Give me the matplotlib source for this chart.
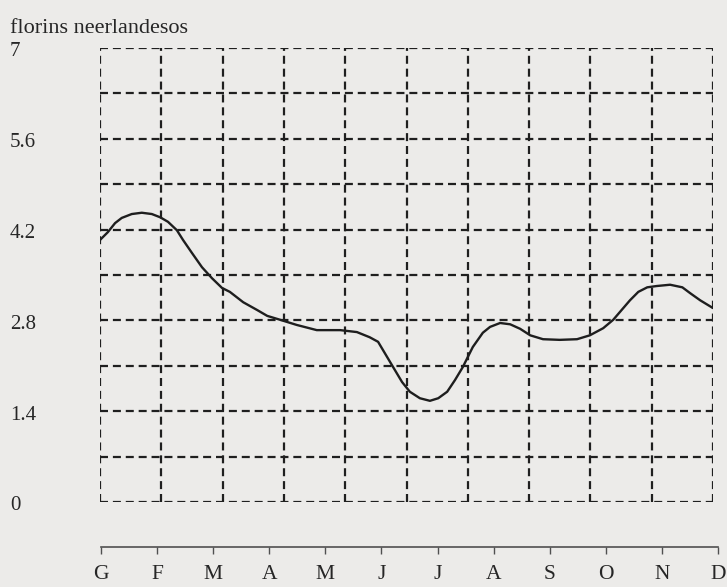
import numpy as np
import matplotlib
matplotlib.use('Agg')
import matplotlib.pyplot as plt
from matplotlib.transforms import offset_copy

# price curve, x in months (0 = G ... 11 = D), y in florins
month_pos = [0.0, 0.14, 0.27, 0.39, 0.57, 0.75, 0.93, 1.08, 1.22, 1.38,
             1.49, 1.65, 1.83, 2.01, 2.19, 2.33, 2.57, 2.82, 3.00, 3.23,
             3.53, 3.89, 4.31, 4.61, 4.84, 4.99, 5.08, 5.26, 5.42, 5.56,
             5.74, 5.92, 6.07, 6.23, 6.37, 6.51, 6.69, 6.87, 7.00, 7.18,
             7.36, 7.54, 7.72, 7.95, 8.25, 8.56, 8.79, 9.03, 9.21, 9.33,
             9.51, 9.66, 9.82, 9.99, 10.23, 10.45, 10.59, 10.77, 11.0]
price = [4.04, 4.16, 4.30, 4.38, 4.44, 4.46, 4.44, 4.39, 4.32, 4.19,
         4.04, 3.84, 3.62, 3.45, 3.30, 3.24, 3.08, 2.96, 2.87, 2.81,
         2.73, 2.65, 2.65, 2.62, 2.54, 2.47, 2.34, 2.08, 1.85, 1.70,
         1.60, 1.56, 1.60, 1.70, 1.88, 2.08, 2.39, 2.61, 2.70, 2.76,
         2.74, 2.67, 2.57, 2.51, 2.50, 2.51, 2.57, 2.68, 2.81, 2.93,
         3.11, 3.24, 3.31, 3.33, 3.35, 3.31, 3.22, 3.11, 2.99]

months = ['G', 'F', 'M', 'A', 'M', 'J', 'J', 'A', 'S', 'O', 'N', 'D']
ytick_vals = [0, 1.4, 2.8, 4.2, 5.6, 7]
ytick_labels = ['0', '1.4', '2.8', '4.2', '5.6', '7']

bg = '#ecebe9'
ink = '#262626'
plt.rcParams['font.family'] = ['Liberation Serif', 'DejaVu Serif']

fig = plt.figure(figsize=(7.27, 5.87), dpi=100, facecolor=bg)

# main grid panel
ax = fig.add_axes([100 / 727, 1 - 502 / 587, 613 / 727, 454 / 587])
ax.set_facecolor(bg)
ax.set_xlim(0, 11)
ax.set_ylim(0, 7)
for s in ax.spines.values():
    s.set_visible(False)
ax.set_xticks([])
ax.set_yticks([])

dash = (0, (3.6, 2.2))
ax.vlines(np.linspace(0, 11, 11), 0, 7, colors='#1f1f1f', linestyles=dash, lw=1.6)
ax.hlines(np.arange(0, 7.01, 0.7), 0, 11, colors='#1f1f1f', linestyles=dash, lw=1.6)

ax.plot(month_pos, price, color='#1e1e1e', lw=1.7, solid_capstyle='round',
        solid_joinstyle='round')

# y labels, left aligned at the figure edge, slightly below the gridlines
trans = offset_copy(ax.get_yaxis_transform(), fig=fig, x=0, y=-4, units='dots')
for v, lab in zip(ytick_vals, ytick_labels):
    ax.text(-90 / 613, v, lab, transform=trans, ha='left', va='center',
            fontsize=15, color=ink, clip_on=False)

fig.text(10 / 727, 1 - 33 / 587, 'florins neerlandesos', ha='left',
         va='baseline', fontsize=16, color=ink)

# separate month scale below
ax2 = fig.add_axes([101 / 727, 1 - 547 / 587, 617 / 727, 0.001])
ax2.set_facecolor('none')
ax2.set_xlim(0, 11)
for k in ['top', 'left', 'right']:
    ax2.spines[k].set_visible(False)
ax2.spines['bottom'].set_color('#505050')
ax2.spines['bottom'].set_linewidth(1.2)
ax2.set_yticks([])
ax2.set_xticks(range(12))
ax2.set_xticklabels(months, fontsize=15.5, color=ink)
ax2.tick_params(axis='x', direction='out', length=5, width=1.0,
                color='#505050', pad=8)

fig.savefig('out.png', dpi=100, facecolor=bg)
